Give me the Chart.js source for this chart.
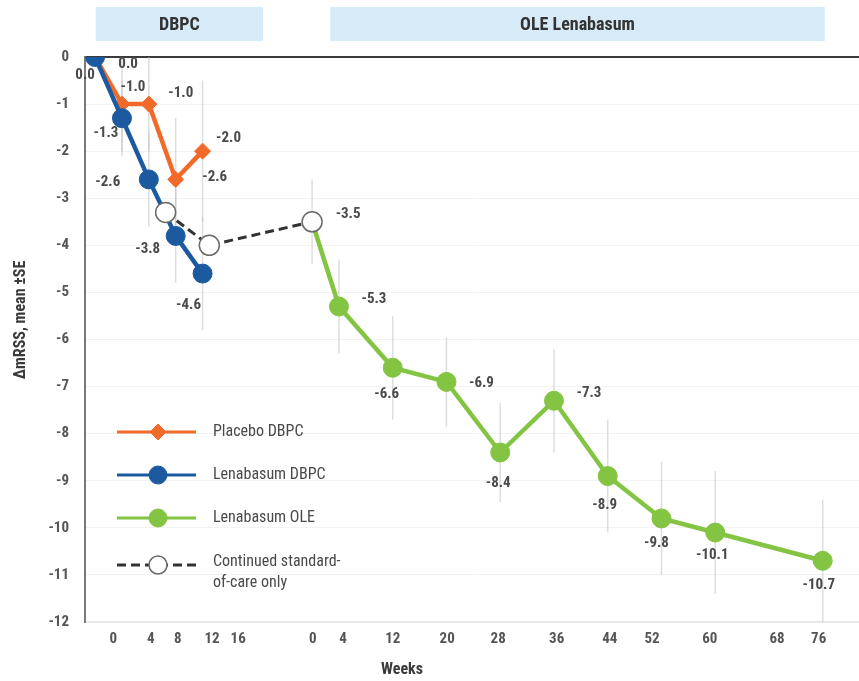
<!DOCTYPE html>
<html>
<head>
<meta charset="utf-8">
<script src="https://cdn.jsdelivr.net/npm/chart.js@4.4.1/dist/chart.umd.min.js"></script>
<style>
  html, body { margin: 0; padding: 0; background: #ffffff; }
  #wrap { width: 859px; height: 681px; position: relative; }
</style>
</head>
<body>
<div id="wrap"><canvas id="chart" width="859" height="681"></canvas></div>
<script>
// ---- Visit weeks per study phase ----
const dbpcWeeks = [0, 4, 8, 12, 16];
const oleWeeks = [0, 4, 12, 20, 28, 36, 44, 52, 60, 76];

// ---- Change in mRSS (mean) and standard errors ----
const placeboDbpc = [0.0, -1.0, -1.0, -2.6, -2.0];
const placeboDbpcSe = [0, 1.0, 1.0, 1.3, 1.5];
const lenabasumDbpc = [0.0, -1.3, -2.6, -3.8, -4.6];
const lenabasumDbpcSe = [0, 0.8, 1.0, 1.0, 1.2];
const lenabasumOle = [-3.5, -5.3, -6.6, -6.9, -8.4, -7.3, -8.9, -9.8, -10.1, -10.7];
const lenabasumOleSe = [0.9, 1.0, 1.1, 0.95, 1.05, 1.1, 1.2, 1.2, 1.3, 1.3];

// Standard-of-care only, bridging the end of DBPC to the start of OLE
const socPhase = ['DBPC', 'DBPC', 'OLE'];
const socWeeks = [10.5, 17, 0];
const socValues = [-3.3, -4.0, -3.5];

// ---- Axis tick labels ----
const dbpcTickLabels = ['0', '4', '8', '12', '16'];
const oleTickLabels = ['0', '4', '12', '20', '28', '36', '44', '52', '60', '68', '76'];
const yTickValues = [0, -1, -2, -3, -4, -5, -6, -7, -8, -9, -10, -11, -12];

// ---- Phase labels shown above the plot ----
const phaseNames = ['DBPC', 'OLE Lenabasum'];

// ---------------------------------------------------------------
// Layout: one continuous time axis; the OLE period starts after a gap.
const OLE_START = 32.3;
const toAxis = (phase, w) => (phase === 'OLE' ? OLE_START + w : w);
const dbpcTickAt = [2.7, 8.3, 12.3, 17.4, 21.3];
const oleTickAt = [32.4, 36.9, 44.3, 52.4, 60.0, 68.7, 76.6, 82.9, 91.5, 101.5, 107.7];
const phaseBands = [[0.1, 25], [35, 108.6]];

const FONT = "'Liberation Sans Narrow', 'Roboto Condensed', Roboto, sans-serif";
const ORANGE = '#F26A2A';
const BLUE = '#1C5AA0';
const GREEN = '#84C443';
const TEXT = '#4a4a4a';

const pts = (phase, weeks, vals) => weeks.map((w, i) => ({ x: toAxis(phase, w), y: vals[i] }));

const tickAt = dbpcTickAt.concat(oleTickAt);
const tickText = dbpcTickLabels.concat(oleTickLabels);

// Value label offsets (px) relative to each point
const placeboLabelOffsets = [[33, 7], [11, -17], [32, -11], [39, -2], [26, -13]];
const blueLabelOffsets = [[-10, 18], [-16, 15], [-41, 3], [-28, 13], [-14, 32]];
const greenLabelOffsets = [[36, -8], [35, -7], [-6, 26], [35, 1], [-2, 31], [35, -7], [-3, 29], [-5, 25], [-3, 23], [-4, 24]];

// Vertical ±SE whiskers behind the lines
const errorBarPlugin = {
  id: 'errorBars',
  beforeDatasetsDraw(chart) {
    const { ctx, scales: { y } } = chart;
    ctx.save();
    ctx.strokeStyle = 'rgba(190,190,190,0.5)';
    ctx.lineWidth = 1.5;
    chart.data.datasets.forEach((ds, di) => {
      if (!ds.errorBars) return;
      const meta = chart.getDatasetMeta(di);
      ds.data.forEach((p, i) => {
        const se = ds.errorBars[i];
        if (!se) return;
        const el = meta.data[i];
        ctx.beginPath();
        ctx.moveTo(el.x, y.getPixelForValue(p.y + se));
        ctx.lineTo(el.x, y.getPixelForValue(p.y - se));
        ctx.stroke();
      });
    });
    ctx.restore();
  }
};

// Numeric value labels next to points
const valueLabelPlugin = {
  id: 'valueLabels',
  afterDatasetsDraw(chart) {
    const { ctx } = chart;
    ctx.save();
    ctx.font = 'bold 15px ' + FONT;
    ctx.fillStyle = TEXT;
    ctx.textAlign = 'center';
    ctx.textBaseline = 'middle';
    chart.data.datasets.forEach((ds, di) => {
      if (!ds.labelOffsets) return;
      const meta = chart.getDatasetMeta(di);
      ds.data.forEach((p, i) => {
        const el = meta.data[i];
        const [dx, dy] = ds.labelOffsets[i];
        ctx.fillText(p.y.toFixed(1), el.x + dx, el.y + dy);
      });
    });
    ctx.restore();
  }
};

// Phase bands on top, axis titles and the in-plot legend
const decorPlugin = {
  id: 'decor',
  afterDraw(chart) {
    const { ctx, scales: { x }, chartArea } = chart;
    ctx.save();
    // phase bands
    phaseBands.forEach((b, i) => {
      const x0 = x.getPixelForValue(b[0]);
      const x1 = x.getPixelForValue(b[1]);
      ctx.fillStyle = '#D6EBF7';
      ctx.fillRect(x0, 7, x1 - x0, 34);
      ctx.fillStyle = '#333333';
      ctx.font = 'bold 18px ' + FONT;
      ctx.textAlign = 'center';
      ctx.textBaseline = 'middle';
      ctx.fillText(phaseNames[i], (x0 + x1) / 2, 25);
    });
    // axis titles
    ctx.fillStyle = '#3a3a3a';
    ctx.font = 'bold 16px ' + FONT;
    ctx.textAlign = 'center';
    ctx.textBaseline = 'middle';
    ctx.fillText('Weeks', 402, chartArea.bottom + 48);
    ctx.save();
    ctx.translate(21, 320);
    ctx.rotate(-Math.PI / 2);
    ctx.fillText('ΔmRSS, mean ±SE', 0, 0);
    ctx.restore();

    // legend
    const rows = [
      { ds: 1, y: 432, text: ['Placebo DBPC'] },
      { ds: 2, y: 475, text: ['Lenabasum DBPC'] },
      { ds: 3, y: 518, text: ['Lenabasum OLE'] },
      { ds: 0, y: 565, text: ['Continued standard-', 'of-care only'] }
    ];
    rows.forEach(r => {
      const ds = chart.data.datasets[r.ds];
      ctx.strokeStyle = ds.borderColor;
      ctx.lineWidth = 3;
      ctx.setLineDash(ds.borderDash || []);
      ctx.beginPath();
      ctx.moveTo(117, r.y);
      ctx.lineTo(196, r.y);
      ctx.stroke();
      ctx.setLineDash([]);
      ctx.fillStyle = ds.pointBackgroundColor;
      ctx.strokeStyle = ds.pointBorderColor;
      ctx.lineWidth = ds.pointBorderWidth;
      ctx.beginPath();
      if (ds.pointStyle === 'rectRot') {
        const s = 8;
        ctx.moveTo(158, r.y - s); ctx.lineTo(158 + s, r.y);
        ctx.lineTo(158, r.y + s); ctx.lineTo(158 - s, r.y);
        ctx.closePath();
      } else {
        ctx.arc(158, r.y, 9, 0, Math.PI * 2);
      }
      ctx.fill();
      ctx.stroke();
      ctx.fillStyle = TEXT;
      ctx.font = '16px ' + FONT;
      ctx.textAlign = 'left';
      ctx.textBaseline = 'middle';
      r.text.forEach((t, k) => ctx.fillText(t, 213, r.y - (r.text.length > 1 ? 3 : 0) + k * 21));
    });
    ctx.restore();
  }
};

new Chart(document.getElementById('chart'), {
  type: 'line',
  data: {
    datasets: [
      {
        label: 'Continued standard-of-care only',
        data: socPhase.map((ph, i) => ({ x: toAxis(ph, socWeeks[i]), y: socValues[i] })),
        borderColor: '#333333',
        borderWidth: 3,
        borderDash: [9, 5],
        pointStyle: 'circle',
        pointRadius: 10,
        pointBackgroundColor: '#ffffff',
        pointBorderColor: '#6a6a6a',
        pointBorderWidth: 1.5,
        order: 0
      },
      {
        label: 'Placebo DBPC',
        data: pts('DBPC', dbpcWeeks, placeboDbpc),
        errorBars: placeboDbpcSe,
        labelOffsets: placeboLabelOffsets,
        borderColor: ORANGE,
        borderWidth: 4.5,
        pointStyle: 'rectRot',
        pointRadius: 8,
        pointBackgroundColor: ORANGE,
        pointBorderColor: ORANGE,
        pointBorderWidth: 1,
        order: 2
      },
      {
        label: 'Lenabasum DBPC',
        data: pts('DBPC', dbpcWeeks, lenabasumDbpc),
        errorBars: lenabasumDbpcSe,
        labelOffsets: blueLabelOffsets,
        borderColor: BLUE,
        borderWidth: 4.5,
        pointStyle: 'circle',
        pointRadius: 9.5,
        pointBackgroundColor: BLUE,
        pointBorderColor: BLUE,
        pointBorderWidth: 1,
        order: 1
      },
      {
        label: 'Lenabasum OLE',
        data: pts('OLE', oleWeeks, lenabasumOle),
        errorBars: lenabasumOleSe,
        labelOffsets: greenLabelOffsets,
        borderColor: GREEN,
        borderWidth: 4.5,
        pointStyle: 'circle',
        pointRadius: 9.5,
        pointBackgroundColor: GREEN,
        pointBorderColor: GREEN,
        pointBorderWidth: 1,
        order: 3
      }
    ]
  },
  options: {
    responsive: false,
    animation: false,
    events: [],
    layout: { autoPadding: false, padding: { top: 57, bottom: 25, left: 0, right: 0 } },
    plugins: { legend: { display: false }, tooltip: { enabled: false } },
    elements: { line: { tension: 0 } },
    scales: {
      x: {
        type: 'linear',
        min: -1.5,
        max: 113.7,
        afterBuildTicks: s => { s.ticks = tickAt.map(v => ({ value: v })); },
        afterFit: s => { s.paddingLeft = 0; s.paddingRight = 0; },
        ticks: {
          autoSkip: false,
          maxRotation: 0,
          padding: 8,
          color: '#555555',
          font: { family: FONT, size: 15, weight: 'bold' },
          callback: (v, i) => tickText[i]
        },
        grid: { display: false, drawTicks: false },
        border: { display: true, color: '#e6e6e6', width: 1.5 }
      },
      y: {
        type: 'linear',
        min: -12,
        max: 0,
        afterFit: s => { s.width = 85; },
        afterBuildTicks: s => { s.ticks = yTickValues.map(v => ({ value: v })); },
        ticks: {
          padding: 16,
          color: '#555555',
          font: { family: FONT, size: 15, weight: 'bold' },
          callback: v => String(v)
        },
        grid: {
          drawTicks: false,
          color: c => (c.tick && c.tick.value === 0 ? '#3a3a3a' : '#f2f2f2'),
          lineWidth: c => (c.tick && c.tick.value === 0 ? 2 : 1)
        },
        border: { display: true, color: '#7a7a7a', width: 2 }
      }
    }
  },
  plugins: [errorBarPlugin, valueLabelPlugin, decorPlugin]
});
</script>
</body>
</html>
